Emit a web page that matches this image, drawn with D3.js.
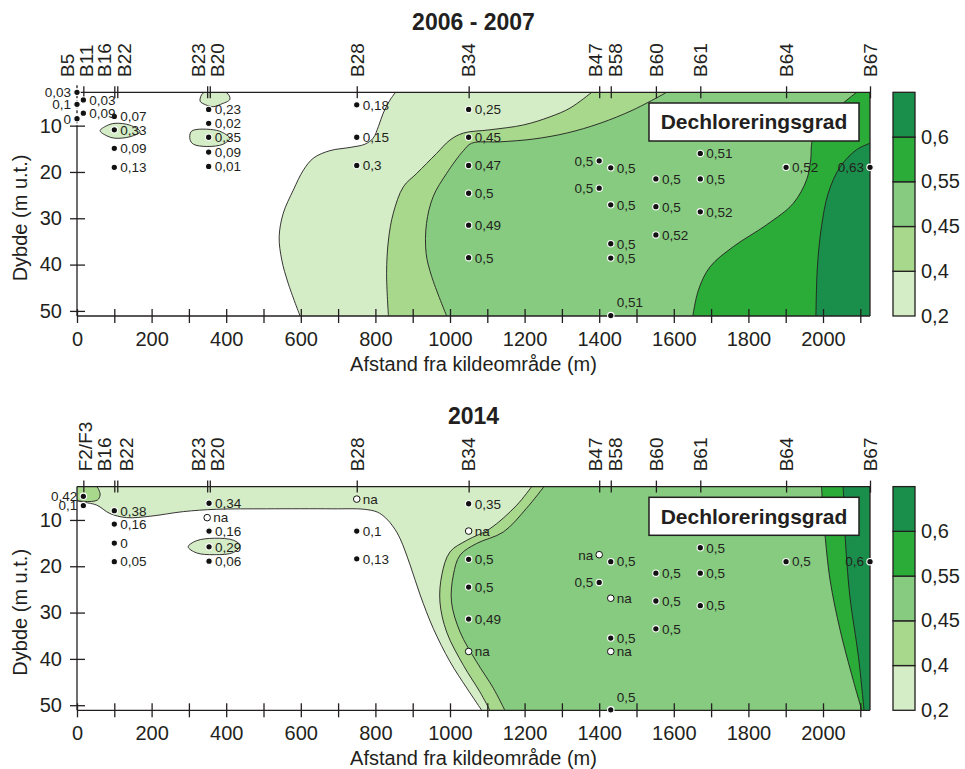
<!DOCTYPE html>
<html>
<head>
<meta charset="utf-8">
<script src="https://cdn.jsdelivr.net/npm/d3@7"></script>
<style>
  body { margin: 0; background: #fff; }
  svg { font-family: "Liberation Sans", Arial, sans-serif; }
</style>
</head>
<body>
<svg id="chart" width="965" height="769"></svg>
<script>
/* Colour classes (lower bound of each band) */
const levels = [0.2, 0.4, 0.45, 0.55, 0.6];
const levelColors = ["#d5edc6", "#a7d88c", "#86cb7f", "#2bab37", "#1a8f4b"];

/* Axis ticks */
const xTicks = d3.range(0, 2101, 100);
const depthTicks = [10, 20, 30, 40, 50];

/* Wells along the top axis: name, position (m), label position (m) */
const wells2006 = ["B5", "B11", "B16", "B22", "B23", "B20", "B28", "B34", "B47", "B58", "B60", "B61", "B64", "B67"];
const wellPos2006 = [0, 17, 100, 108, 349, 356, 750, 1050, 1400, 1431, 1552, 1671, 1901, 2126];
const wellLabelPos2006 = [-27, 25, 73, 126, 324, 375, 750, 1050, 1390, 1442, 1552, 1671, 1901, 2126];

const wells2014 = ["F2/F3", "B16", "B22", "B23", "B20", "B28", "B34", "B47", "B58", "B60", "B61", "B64", "B67"];
const wellPos2014 = [17, 100, 108, 349, 356, 750, 1050, 1400, 1431, 1552, 1671, 1901, 2126];
const wellLabelPos2014 = [21, 73, 131, 324, 375, 750, 1050, 1390, 1442, 1552, 1671, 1901, 2126];

/* Samples: [distance (m), depth (m), dechlorination degree] ; null = na */
const samples2006 = [
  [0, 2.8, 0.03], [0, 5.4, 0.1], [0, 8.5, 0],
  [17, 4.45, 0.03], [17, 7.3, 0.09],
  [100, 8.0, 0.07], [100, 10.9, 0.33], [100, 14.9, 0.09], [100, 19.0, 0.13],
  [353, 6.5, 0.23], [353, 9.5, 0.02], [353, 12.5, 0.35], [353, 15.7, 0.09], [353, 18.8, 0.01],
  [750, 5.5, 0.18], [750, 12.5, 0.15], [750, 18.6, 0.3],
  [1050, 6.5, 0.25], [1050, 12.5, 0.45], [1050, 18.6, 0.47], [1050, 24.6, 0.5], [1050, 31.5, 0.49], [1050, 38.5, 0.5],
  [1400, 17.6, 0.5], [1400, 23.5, 0.5],
  [1431, 19.1, 0.5], [1431, 27.1, 0.5], [1431, 35.5, 0.5], [1431, 38.6, 0.5], [1431, 51.0, 0.51],
  [1552, 21.5, 0.5], [1552, 27.5, 0.5], [1552, 33.6, 0.52],
  [1671, 16.0, 0.51], [1671, 21.5, 0.5], [1671, 28.6, 0.52],
  [1901, 19.0, 0.52],
  [2126, 19.0, 0.63]
];

const samples2014 = [
  [17, 4.9, 0.42], [17, 6.9, 0.1],
  [100, 8.0, 0.38], [100, 10.9, 0.16], [100, 15.0, 0], [100, 19.0, 0.05],
  [354, 6.4, 0.34], [349, 9.5, null], [354, 12.4, 0.16], [354, 15.8, 0.29], [354, 18.9, 0.06],
  [750, 5.5, null], [750, 12.4, 0.1], [750, 18.4, 0.13],
  [1050, 6.5, 0.35], [1050, 12.4, null], [1050, 18.5, 0.5], [1050, 24.5, 0.5], [1050, 31.4, 0.49], [1050, 38.4, null],
  [1400, 17.5, null], [1400, 23.5, 0.5],
  [1431, 19.0, 0.5], [1431, 26.9, null], [1431, 35.5, 0.5], [1431, 38.4, null], [1431, 51.0, 0.5],
  [1552, 21.5, 0.5], [1552, 27.5, 0.5], [1552, 33.5, 0.5],
  [1671, 16.0, 0.5], [1671, 21.5, 0.5], [1671, 28.5, 0.5],
  [1901, 19.0, 0.5],
  [2126, 19.0, 0.6]
];

/* Contour lines [distance, depth], one per class boundary (0.2, 0.4, 0.45, 0.55, 0.6) */
const contours2006 = [
  [[854, 2.8], [839, 4.5], [821, 7.3], [808, 10.2], [794, 12.7], [772, 14.0], [732, 14.7], [678, 15.4], [634, 17.0],
   [607, 19.6], [580, 23.9], [553, 28.9], [542, 34.0], [549, 39.0], [566, 44.0], [598, 51.1]],
  [[1380, 2.8], [1322, 6.2], [1268, 8.1], [1197, 9.85], [1107, 10.9], [1036, 11.6], [1000, 13.1], [964, 16.0],
   [911, 20.3], [875, 23.2], [848, 28.9], [835, 34.7], [830, 41.9], [835, 51.1]],
  [[1581, 2.8], [1491, 6.6], [1402, 9.5], [1313, 11.6], [1223, 12.9], [1134, 13.5], [1058, 13.8], [1036, 15.4],
   [991, 20.3], [955, 25.3], [937, 31.1], [936, 37.6], [951, 42.6], [991, 51.1]],
  [[2090, 2.8], [2053, 5.2], [1995, 9.5], [1971, 13.3], [1967, 17.4], [1956, 21.7], [1920, 26.8], [1849, 31.4],
   [1760, 36.1], [1697, 40.5], [1666, 45.5], [1651, 51.1]],
  [[2126, 13.8], [2090, 15.2], [2046, 18.9], [2014, 24.6], [1996, 31.8], [1985, 40.5], [1981, 51.1]]
];

const contours2014 = [
  [[0, 5.9], [20, 6.2], [53, 6.8], [88, 8.6], [133, 9.5], [196, 9.2], [285, 8.2], [374, 7.7], [508, 7.6], [686, 7.6],
   [770, 7.7], [805, 8.3], [828, 9.6], [848, 11.5], [866, 14.0], [893, 19.7], [920, 26.2], [955, 33.4], [1000, 40.6],
   [1045, 46.3], [1085, 51.1]],
  [[1219, 2.8], [1179, 6.8], [1107, 11.9], [1045, 14.4], [1000, 16.9], [978, 21.9], [973, 27.7], [991, 34.2],
   [1036, 41.4], [1080, 47.1], [1107, 51.1]],
  [[1252, 2.8], [1205, 7.5], [1143, 12.6], [1071, 15.1], [1027, 17.6], [1009, 21.9], [1004, 27.7], [1027, 34.2],
   [1071, 40.6], [1116, 46.3], [1147, 51.1]],
  [[1996, 2.8], [2000, 8], [2005, 12.9], [2019, 23.0], [2046, 33.8], [2081, 44.6], [2104, 51.1]],
  [[2054, 2.8], [2057, 8], [2059, 12.9], [2072, 26.5], [2095, 39.5], [2110, 51.1]]
];

/* Small closed patches: [class index, outline] */
const blobs2006 = [
  [0, [[62, 11.1], [80, 10.0], [102, 9.5], [142, 9.9], [169, 11.3], [142, 12.4], [100, 12.7], [80, 12.2]]],
  [0, [[330, 4.7], [339, 2.9], [401, 2.9], [410, 4.3], [385, 5.4], [365, 5.9], [345, 5.5]]],
  [0, [[307, 11.2], [374, 11.0], [401, 12.0], [410, 12.7], [392, 14.0], [348, 14.5], [312, 14.0], [303, 13.0]]]
];
const blobs2014 = [
  [1, [[0, 2.6], [50, 2.6], [60, 3.8], [62, 4.6], [55, 5.7], [20, 6.0], [0, 5.6]]],
  [0, [[298, 15.8], [320, 14.5], [368, 13.95], [420, 14.4], [437, 15.5], [420, 17.0], [368, 17.5], [320, 17.1]]]
];

/* Layout */
const plot = { left: 77, right: 870, top: 92.3, bottom: 316 };
const xMax = 2126, dMin = 2.8, dMax = 51.1;
const ink = "#231f20";

const x = d3.scaleLinear().domain([0, xMax]).range([plot.left, plot.right]);
const y = d3.scaleLinear().domain([dMin, dMax]).range([plot.top, plot.bottom]);
const barY = d3.scaleBand().domain(levels).range([plot.bottom, plot.top]);

const fmt = v => v === null ? "na" : String(v).replace(".", ",");
const svg = d3.select("#chart");

function drawPanel(cfg, offsetY, idx) {
  const g = svg.append("g").attr("transform", `translate(0,${offsetY})`);

  /* Filled contour classes */
  g.append("clipPath").attr("id", "clip" + idx)
    .append("rect")
      .attr("x", plot.left).attr("y", plot.top)
      .attr("width", plot.right - plot.left).attr("height", plot.bottom - plot.top);
  const area = g.append("g").attr("clip-path", `url(#clip${idx})`);
  const curve = d3.line().x(d => x(d[0])).y(d => y(d[1])).curve(d3.curveCatmullRom.alpha(0.5));
  const closed = d3.line().x(d => x(d[0])).y(d => y(d[1])).curve(d3.curveCatmullRomClosed.alpha(0.5));

  cfg.contours.forEach((pts, i) => {
    const corners = [[xMax, dMax]];
    if (pts[0][0] !== xMax) corners.push([xMax, dMin]);
    if (pts[0][0] === 0) corners.push([0, dMin]);
    const d = curve(pts) + corners.map(c => `L${x(c[0])},${y(c[1])}`).join("") + "Z";
    area.append("path").attr("d", d).attr("fill", levelColors[i]);
  });
  cfg.contours.forEach(pts => {
    area.append("path").attr("d", curve(pts))
      .attr("fill", "none").attr("stroke", ink).attr("stroke-width", 0.9);
  });
  cfg.blobs.forEach(b => {
    area.append("path").attr("d", closed(b[1]))
      .attr("fill", levelColors[b[0]]).attr("stroke", ink).attr("stroke-width", 0.9);
  });

  /* Frame */
  const frame = g.append("g").attr("stroke", ink).attr("stroke-width", 1.3);
  frame.append("line").attr("x1", x(0)).attr("x2", x(xMax)).attr("y1", y(dMin)).attr("y2", y(dMin));
  frame.append("line").attr("x1", x(0)).attr("x2", x(xMax)).attr("y1", y(dMax)).attr("y2", y(dMax));
  frame.append("line").attr("x1", x(xMax)).attr("x2", x(xMax)).attr("y1", y(dMin)).attr("y2", y(dMax));
  if (cfg.dashedTop) {
    frame.append("line").attr("x1", x(0)).attr("x2", x(0)).attr("y1", y(10)).attr("y2", y(dMax));
    frame.append("line").attr("x1", x(0)).attr("x2", x(0)).attr("y1", y(dMin) - 7).attr("y2", y(10))
      .attr("stroke-dasharray", "3,2");
  } else {
    frame.append("line").attr("x1", x(0)).attr("x2", x(0)).attr("y1", y(dMin)).attr("y2", y(dMax));
  }

  /* Bottom axis */
  const xAxis = g.append("g")
    .attr("transform", `translate(0,${plot.bottom})`)
    .call(d3.axisBottom(x).tickValues(xTicks)
      .tickFormat(d => d % 200 === 0 ? d : "")
      .tickSize(7).tickPadding(9));
  xAxis.select(".domain").remove();
  xAxis.selectAll(".tick line").attr("y1", -7).attr("stroke", ink).attr("stroke-width", 1.3);
  xAxis.attr("font-size", 20).attr("font-family", null);
  xAxis.selectAll("text").attr("fill", ink);

  /* Left axis */
  const yAxis = g.append("g")
    .attr("transform", `translate(${plot.left},0)`)
    .call(d3.axisLeft(y).tickValues(depthTicks).tickSize(7).tickPadding(8));
  yAxis.select(".domain").remove();
  yAxis.selectAll(".tick line").attr("x1", 8).attr("stroke", ink).attr("stroke-width", 1.3);
  yAxis.attr("font-size", 20).attr("font-family", null);
  yAxis.selectAll("text").attr("fill", ink);

  /* Top axis with wells */
  const tAxis = g.append("g")
    .attr("transform", `translate(0,${plot.top})`)
    .call(d3.axisTop(x).tickValues(cfg.wellPos.filter(v => !(cfg.dashedTop && v === 0)))
      .tickFormat("").tickSize(6));
  tAxis.select(".domain").remove();
  tAxis.selectAll(".tick line").attr("y1", 6).attr("stroke", ink).attr("stroke-width", 1.3);

  g.append("g").selectAll("text")
    .data(cfg.wells)
    .join("text")
      .attr("transform", (d, i) => `translate(${x(cfg.wellLabelPos[i])},77) rotate(-90)`)
      .attr("dy", "0.36em")
      .attr("font-size", 19)
      .attr("fill", ink)
      .text(d => d);

  /* Titles */
  g.append("text")
    .attr("x", (plot.left + plot.right) / 2).attr("y", 30)
    .attr("text-anchor", "middle").attr("font-size", 23).attr("font-weight", "bold")
    .attr("fill", ink).text(cfg.title);
  g.append("text")
    .attr("x", (plot.left + plot.right) / 2).attr("y", 371)
    .attr("text-anchor", "middle").attr("font-size", 20)
    .attr("fill", ink).text("Afstand fra kildeområde (m)");
  g.append("text")
    .attr("transform", "translate(27,218) rotate(-90)")
    .attr("text-anchor", "middle").attr("font-size", 20)
    .attr("fill", ink).text("Dybde (m u.t.)");

  /* Samples */
  const pts = g.append("g");
  pts.selectAll("circle")
    .data(cfg.samples)
    .join("circle")
      .attr("cx", d => x(d[0])).attr("cy", d => y(d[1]))
      .attr("r", d => d[2] === null ? 3.3 : 3.2)
      .attr("fill", d => d[2] === null ? "#fff" : "#111")
      .attr("stroke", d => d[2] === null ? "#111" : "#fff")
      .attr("stroke-width", d => d[2] === null ? 1 : 1.1);
  pts.selectAll("text")
    .data(cfg.samples)
    .join("text")
      .attr("x", d => cfg.leftLabels.includes(d[0]) ? x(d[0]) - 6 : x(d[0]) + 6)
      .attr("y", d => d[1] >= dMax - 0.5 ? y(d[1]) - 13 : y(d[1]))
      .attr("dy", "0.36em")
      .attr("text-anchor", d => cfg.leftLabels.includes(d[0]) ? "end" : "start")
      .attr("font-size", 13.5)
      .attr("fill", ink)
      .text(d => fmt(d[2]));

  /* Legend box */
  g.append("rect")
    .attr("x", 649).attr("y", 103).attr("width", 210).attr("height", 38)
    .attr("fill", "#fff").attr("stroke", ink).attr("stroke-width", 1.5);
  g.append("text")
    .attr("x", 754).attr("y", 122).attr("dy", "0.35em")
    .attr("text-anchor", "middle").attr("font-size", 21).attr("font-weight", "bold")
    .attr("fill", ink).text("Dechloreringsgrad");

  /* Colour bar */
  const bar = g.append("g");
  bar.selectAll("rect")
    .data(levels)
    .join("rect")
      .attr("x", 893).attr("width", 22)
      .attr("y", d => barY(d)).attr("height", barY.bandwidth())
      .attr("fill", (d, i) => levelColors[i])
      .attr("stroke", ink).attr("stroke-width", 1.3);
  bar.selectAll("text")
    .data(levels)
    .join("text")
      .attr("x", 921).attr("y", d => barY(d) + barY.bandwidth())
      .attr("dy", "0.33em")
      .attr("font-size", 20)
      .attr("fill", ink)
      .text(d => fmt(d));
}

drawPanel({
  title: "2006 - 2007",
  wells: wells2006, wellPos: wellPos2006, wellLabelPos: wellLabelPos2006,
  samples: samples2006, contours: contours2006, blobs: blobs2006,
  leftLabels: [0, 1400, 2126], dashedTop: true
}, 0, 0);

drawPanel({
  title: "2014",
  wells: wells2014, wellPos: wellPos2014, wellLabelPos: wellLabelPos2014,
  samples: samples2014, contours: contours2014, blobs: blobs2014,
  leftLabels: [17, 1400, 2126], dashedTop: false
}, 394.3, 1);
</script>
</body>
</html>
